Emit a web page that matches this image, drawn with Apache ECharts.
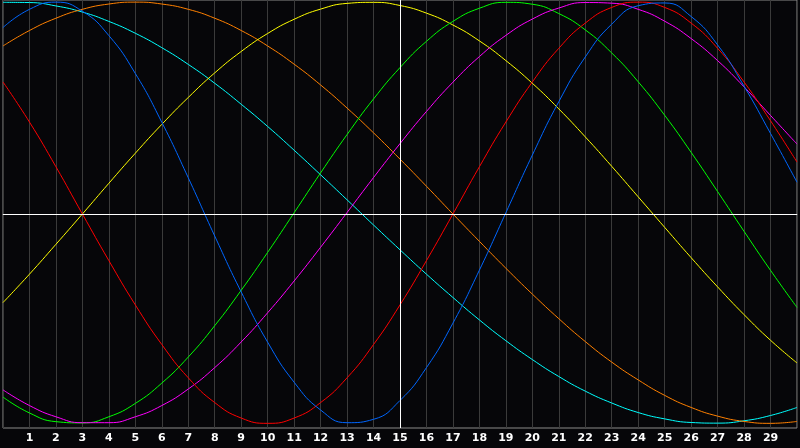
<!DOCTYPE html>
<html>
<head>
<meta charset="utf-8">
<script src="https://cdn.jsdelivr.net/npm/echarts@6/dist/echarts.min.js"></script>
<style>
  html, body { margin: 0; padding: 0; background: #060609; }
  #chart { width: 800px; height: 448px; }
</style>
</head>
<body>
<div id="chart"></div>
<script>
// x positions 0..30, one value per position for each curve
const xs = [0,1,2,3,4,5,6,7,8,9,10,11,12,13,14,15,16,17,18,19,20,21,22,23,24,25,26,27,28,29,30]

const red = [0.623,0.434,0.223,0,-0.22,-0.429,-0.616,-0.773,-0.89,-0.963,-0.988,-0.963,-0.89,-0.773,-0.616,-0.429,-0.22,0,0.223,0.434,0.623,0.782,0.901,0.975,1.0,0.975,0.901,0.782,0.623,0.44,0.245]
const blue = [0.88,0.966,1.0,0.957,0.842,0.663,0.433,0.171,-0.104,-0.368,-0.605,-0.794,-0.925,-0.985,-0.969,-0.88,-0.725,-0.515,-0.265,0.006,0.278,0.53,0.741,0.896,0.983,0.996,0.932,0.798,0.603,0.38,0.15]
const yellow = [-0.418,-0.284,-0.143,0,0.145,0.287,0.423,0.55,0.666,0.767,0.852,0.919,0.967,0.994,0.999,0.984,0.948,0.892,0.817,0.724,0.617,0.496,0.364,0.225,0.081,-0.063,-0.206,-0.344,-0.475,-0.596,-0.703]
const green = [-0.864,-0.939,-0.98,-0.986,-0.957,-0.894,-0.798,-0.675,-0.527,-0.36,-0.181,0.006,0.194,0.375,0.543,0.691,0.815,0.909,0.971,0.999,0.99,0.946,0.869,0.76,0.624,0.466,0.291,0.106,-0.082,-0.266,-0.441]
const magenta = [-0.83,-0.904,-0.957,-0.985,-0.985,-0.957,-0.904,-0.826,-0.725,-0.604,-0.466,-0.316,-0.157,0.007,0.172,0.332,0.484,0.622,0.743,0.843,0.92,0.972,0.998,0.995,0.966,0.91,0.828,0.724,0.6,0.465,0.33]
const cyan = [0.999,0.998,0.982,0.953,0.909,0.853,0.785,0.706,0.617,0.518,0.413,0.301,0.185,0.067,-0.052,-0.169,-0.284,-0.394,-0.5,-0.598,-0.687,-0.767,-0.836,-0.892,-0.937,-0.967,-0.984,-0.987,-0.976,-0.951,-0.913]
const orange = [0.793,0.866,0.924,0.966,0.991,1.0,0.991,0.966,0.924,0.866,0.793,0.707,0.609,0.5,0.383,0.259,0.131,0,-0.129,-0.256,-0.378,-0.494,-0.602,-0.699,-0.783,-0.856,-0.913,-0.954,-0.979,-0.988,-0.979]

const curves = [
  { name: 'cyan', color: '#00ffff', values: cyan },
  { name: 'orange', color: '#ff8000', values: orange },
  { name: 'yellow', color: '#ffff00', values: yellow },
  { name: 'green', color: '#00ff00', values: green },
  { name: 'magenta', color: '#ff00ff', values: magenta },
  { name: 'red', color: '#ff0000', values: red },
  { name: 'blue', color: '#0066ff', values: blue }
]

const myEcharts = echarts.init(document.getElementById('chart'))

const series = curves.map(c => ({
  name: c.name,
  type: 'line',
  smooth: true,
  showSymbol: false,
  lineStyle: { color: c.color, width: 1 },
  data: xs.map((x, i) => [x, c.values[i]])
}))

// white cross lines at x=15 and y=0
series.push({
  type: 'line',
  data: [],
  markLine: {
    silent: true,
    symbol: 'none',
    label: { show: false },
    lineStyle: { color: '#ffffff', width: 1, type: 'solid' },
    data: [{ xAxis: 15 }, { yAxis: 0 }]
  }
})

myEcharts.setOption({
  animation: false,
  backgroundColor: '#060609',
  grid: { left: 0, right: 0, top: 0, bottom: 20, show: true, borderColor: '#8a8a8a', borderWidth: 1 },
  xAxis: {
    type: 'value',
    min: 0,
    max: 30,
    interval: 1,
    axisLine: { lineStyle: { color: '#9a9a9a', width: 1 } },
    axisTick: { show: false },
    splitLine: { show: true, lineStyle: { color: '#3a3a3a', width: 1 } },
    axisLabel: {
      color: '#ffffff',
      fontWeight: 'bold',
      fontSize: 11,
      fontFamily: 'DejaVu Sans',
      margin: 5,
      formatter: v => (v > 0 && v < 30 ? String(v) : '')
    }
  },
  yAxis: {
    type: 'value',
    min: -1.01,
    max: 1.01,
    axisLine: { show: false },
    axisTick: { show: false },
    axisLabel: { show: false },
    splitLine: { show: false }
  },
  series: series
})
</script>
</body>
</html>
